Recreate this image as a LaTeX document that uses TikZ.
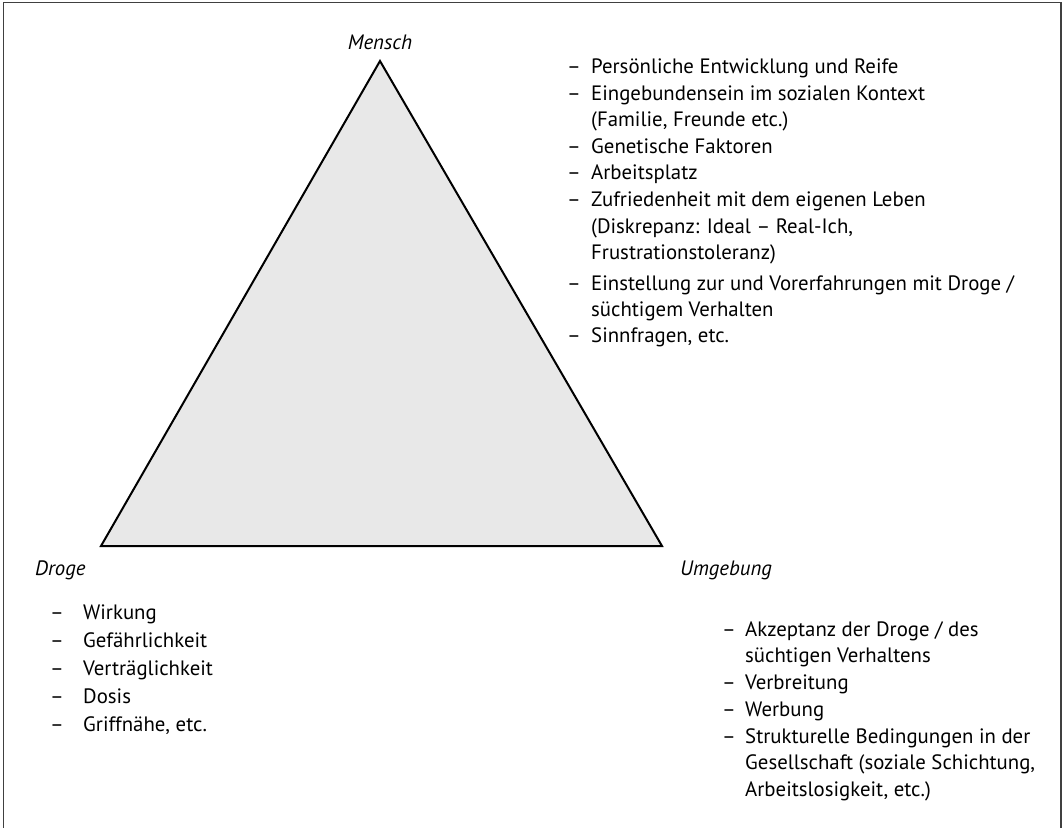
\documentclass[tikz,border=0pt]{standalone}
\usepackage{fontspec}
\setmainfont{PT Sans}
\newcommand{\mylines}[1]{\vtop{\baselineskip=26.5pt\halign{##\hfil\cr#1\crcr}}}
\begin{document}
\begin{tikzpicture}[x=1pt,y=-1pt,
  txt/.style={anchor=base west, inner sep=0pt, font=\fontsize{20.8}{26.5}\selectfont},
  corner/.style={anchor=base west, inner sep=0pt, font=\fontsize{20.8}{26.5}\selectfont\itshape},
  tri/.style={draw=black, line width=2pt, fill=black!9, line join=miter},
  frame/.style={draw=black!75, line width=1.6pt}]
\useasboundingbox (0,0) rectangle (1062,827);
% frame
\draw[frame] (3.5,830) -- (3.5,2.5) -- (1061,2.5) -- (1061,830);
% triangle
\coordinate (M) at (380,61);
\coordinate (D) at (101,546);
\coordinate (U) at (662,546);
\filldraw[tri] (M) -- (U) -- (D) -- cycle;
% corner labels
\node[corner, anchor=base] (lm) at (380,49) {Mensch};
\node[corner] (ld) at (35,575) {Droge};
\node[corner] (lu) at (680,575) {Umgebung};
% Mensch items
\foreach \n/\y in {1/73,2/100,3/153,4/179.5,5/206.5,6/290,7/342}
  \node[txt] (md\n) at (567,\y) {–};
\node[txt] (m1) at (591,73) {Persönliche Entwicklung und Reife};
\node[txt] (m2) at (591,100) {\mylines{Eingebundensein im sozialen Kontext\cr(Familie, Freunde etc.)}};
\node[txt] (m3) at (591,153) {Genetische Faktoren};
\node[txt] (m4) at (591,179.5) {Arbeitsplatz};
\node[txt] (m5) at (591,206.5) {\mylines{Zufriedenheit mit dem eigenen Leben\cr(Diskrepanz: Ideal – Real-Ich,\cr Frustrationstoleranz)}};
\node[txt] (m6) at (591,290) {\mylines{Einstellung zur und Vorerfahrungen mit Droge /\cr süchtigem Verhalten}};
\node[txt] (m7) at (591,342) {Sinnfragen, etc.};
% Droge items
\foreach \n/\y/\t in {1/619/Wirkung,2/647/Gefährlichkeit,3/675/Verträglichkeit,4/703/Dosis,5/731/{Griffnähe, etc.}}{
  \node[txt] (dd\n) at (50,\y) {–};
  \node[txt] (d\n) at (83,\y) {\t};
}
% Umgebung items
\foreach \n/\y in {1/636,2/689,3/716,4/743}
  \node[txt] (ud\n) at (722,\y) {–};
\node[txt] (u1) at (745,636) {\mylines{Akzeptanz der Droge / des\cr süchtigen Verhaltens}};
\node[txt] (u2) at (745,689) {Verbreitung};
\node[txt] (u3) at (745,716) {Werbung};
\node[txt] (u4) at (745,743) {\mylines{Strukturelle Bedingungen in der\cr Gesellschaft (soziale Schichtung,\cr Arbeitslosigkeit, etc.)}};
\end{tikzpicture}
\end{document}
